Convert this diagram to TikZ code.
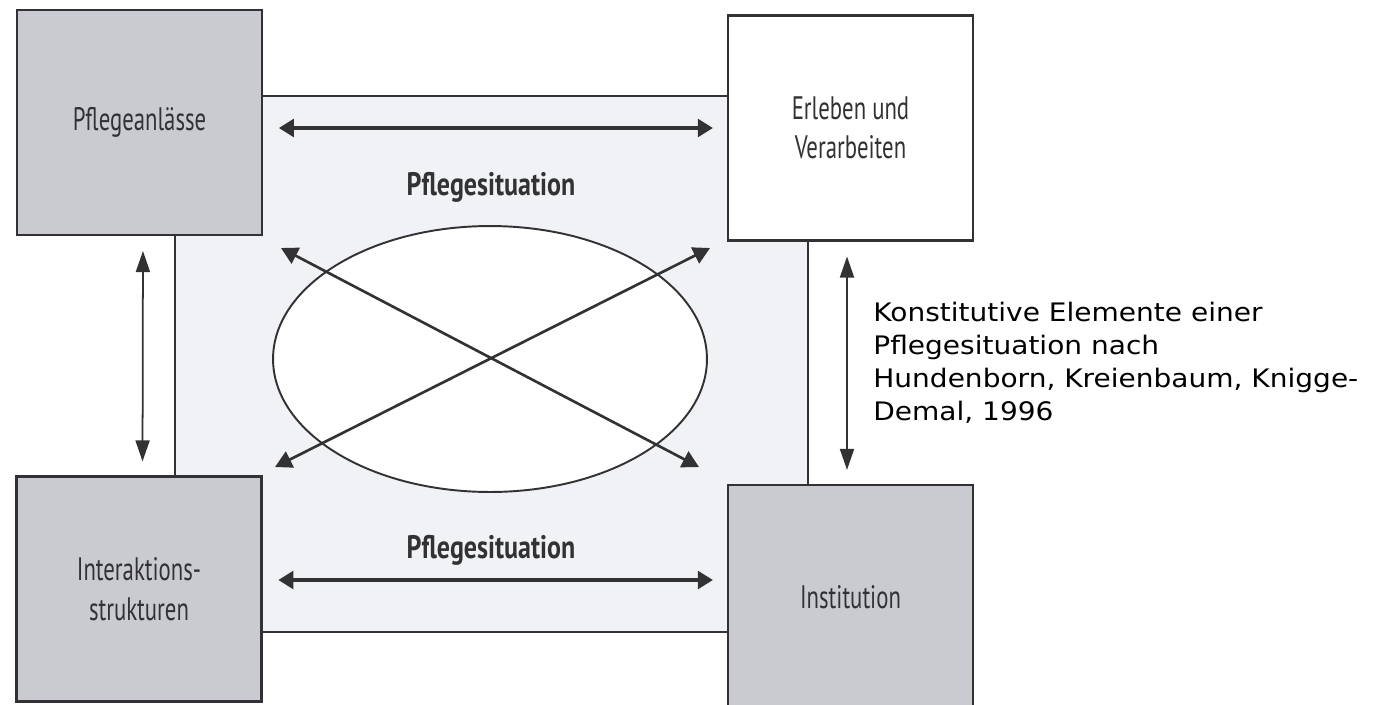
\documentclass[tikz,border=0pt]{standalone}
\usepackage{fontspec}
\setmainfont[FakeStretch=1.1]{DejaVu Sans}
\newfontfamily\boxfont[FakeStretch=0.7]{PT Sans}
\newfontfamily\titlefont[FakeStretch=0.8]{PT Sans Bold}
\usetikzlibrary{arrows.meta,shapes.geometric,positioning}
\definecolor{boxgray}{RGB}{201,203,208}
\definecolor{panelgray}{RGB}{240,242,245}
\definecolor{inkgray}{RGB}{50,50,52}
\tikzset{
  feld/.style={draw=inkgray, line width=1.2pt, fill=boxgray, inner sep=0pt,
    minimum width=4.9cm, minimum height=4.5cm, align=center, text=inkgray,
    font=\boxfont\fontsize{18.5}{22.5}\selectfont},
  quer/.style={{Triangle[length=8.5pt,width=10pt]}-{Triangle[length=8.5pt,width=10pt]},
    line width=1.9pt, draw=inkgray, shorten <=9pt, shorten >=8pt},
  laengs/.style={{Triangle[length=12pt,width=8pt]}-{Triangle[length=12pt,width=8pt]},
    line width=1pt, draw=inkgray, shorten <=8.5pt, shorten >=8pt},
  kreuz/.style={{Triangle[length=9.5pt,width=10pt]}-{Triangle[length=9.5pt,width=10pt]},
    line width=1.5pt, draw=inkgray},
  titel/.style={text=inkgray, font=\titlefont\fontsize{18.5}{22}\selectfont}
}
\begin{document}
\begin{tikzpicture}[x=0.02cm, y=-0.02cm]
  \clip (0,0) rectangle (1386,704);
  \fill[white] (0,0) rectangle (1386,704);
  % inner panel
  \draw[fill=panelgray, draw=inkgray, line width=1.2pt] (175,96) rectangle (808,632);
  \node[ellipse, draw=inkgray, line width=1.1pt, fill=white, inner sep=0pt,
    minimum width=8.68cm, minimum height=5.32cm] (ell) at (490,359) {};
  % four elements
  \node[feld] (anl) at (139.5,122.5) {Pflegeanlässe};
  \node[feld, fill=white] (erl) at (850.5,128) {Erleben und\\Verarbeiten};
  \node[feld] (ia) at (139,589) {Interaktions-\\strukturen};
  \node[feld] (ins) at (850.5,597.5) {Institution};
  \node[titel] (sit1) at (491,187) {Pflegesituation};
  \node[titel] (sit2) at (491,550) {Pflegesituation};
  % diagonal ends
  \coordinate (dnw) at (281,248);
  \coordinate (dne) at (710,248);
  \coordinate (dsw) at (275,467);
  \coordinate (dse) at (699,467);
  \path
  (anl.east |- erl.west) edge[quer] (erl.west)
  ([yshift=0.18cm]ia.east) edge[quer] ([yshift=0.18cm]ins.west |- ia.east)
  ([xshift=0.07cm]anl.south) edge[laengs] ([xshift=0.07cm]ia.north)
  ([xshift=-0.07cm]erl.south) edge[laengs] ([xshift=-0.07cm]ins.north)
  (dnw) edge[kreuz] (dse)
  (dne) edge[kreuz] (dsw);
  \node[anchor=north west, align=left, inner sep=0pt,
    font=\fontsize{14.5}{18.7}\selectfont] (quelle) at (873,302)
    {Konstitutive Elemente einer\\Pflegesituation nach\\Hundenborn, Kreienbaum, Knigge-\\Demal, 1996};
 \end{tikzpicture}
\end{document}
